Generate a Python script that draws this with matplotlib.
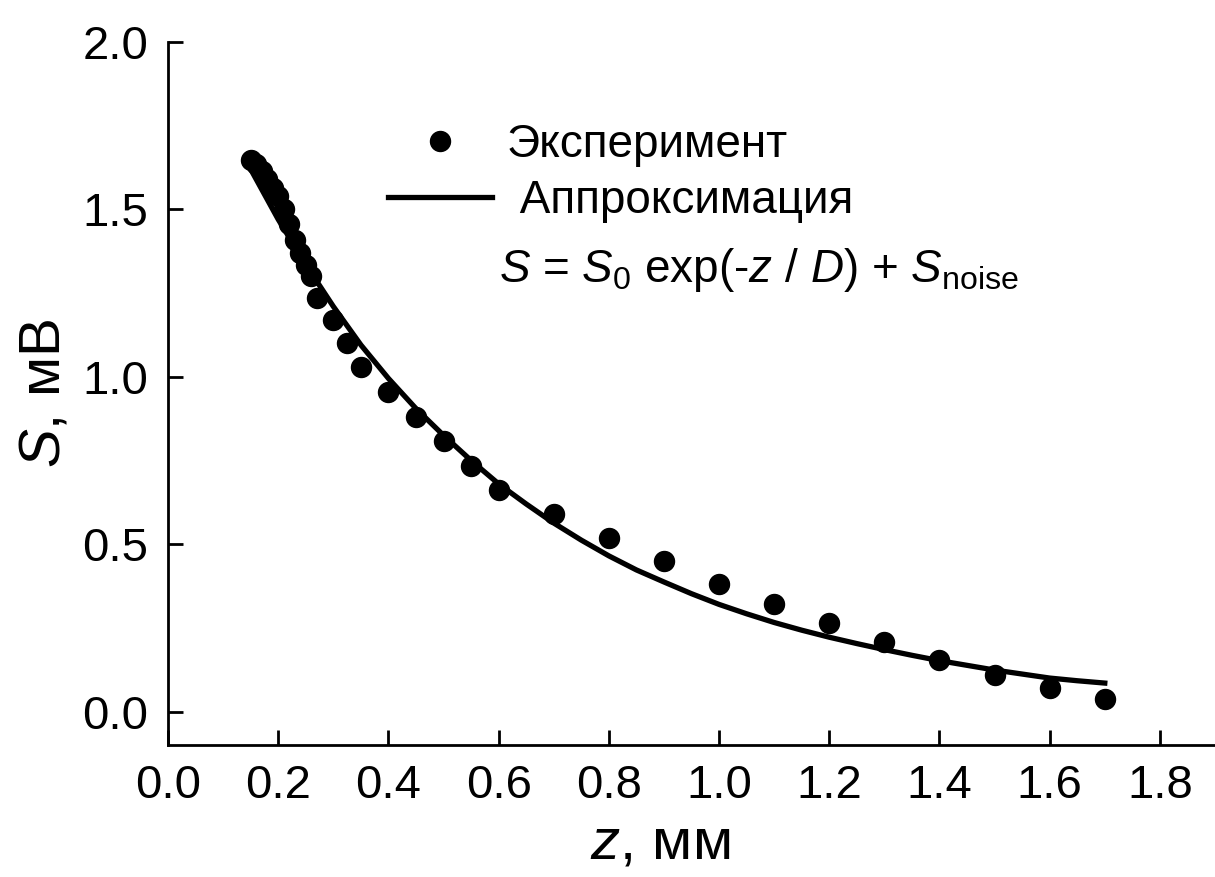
import numpy as np
import matplotlib
matplotlib.use("Agg")
import matplotlib.pyplot as plt

plt.rcParams["font.family"] = ["Liberation Sans", "DejaVu Sans"]
plt.rcParams["mathtext.fontset"] = "custom"
plt.rcParams["mathtext.rm"] = "Liberation Sans"
plt.rcParams["mathtext.it"] = "Liberation Sans:italic"

# experiment
z_exp = [0.15, 0.16, 0.17, 0.18, 0.19, 0.20, 0.21, 0.22, 0.23, 0.24, 0.25,
         0.26, 0.27, 0.30, 0.325, 0.35, 0.40, 0.45, 0.50, 0.55, 0.60, 0.70,
         0.80, 0.90, 1.00, 1.10, 1.20, 1.30, 1.40, 1.50, 1.60, 1.70]
s_exp = [1.648, 1.635, 1.615, 1.59, 1.565, 1.54, 1.50, 1.455, 1.41, 1.37, 1.335,
         1.30, 1.235, 1.17, 1.10, 1.028, 0.956, 0.881, 0.807, 0.732, 0.661, 0.590,
         0.518, 0.449, 0.382, 0.321, 0.263, 0.207, 0.155, 0.110, 0.070, 0.037]

# fit curve
z_fit = [0.15, 0.20, 0.25, 0.30, 0.35, 0.40, 0.45, 0.50, 0.55, 0.60, 0.65,
         0.70, 0.75, 0.80, 0.85, 0.90, 0.95, 1.00, 1.05, 1.10, 1.15, 1.20,
         1.25, 1.30, 1.35, 1.40, 1.45, 1.50, 1.55, 1.60, 1.65, 1.70]
s_fit = [1.62, 1.47, 1.335, 1.21, 1.095, 0.995, 0.905, 0.825, 0.75, 0.68, 0.62,
         0.563, 0.512, 0.465, 0.423, 0.387, 0.352, 0.32, 0.292, 0.266, 0.243, 0.222,
         0.203, 0.185, 0.168, 0.152, 0.138, 0.124, 0.112, 0.100, 0.092, 0.085]

xticks = [0.0, 0.2, 0.4, 0.6, 0.8, 1.0, 1.2, 1.4, 1.6, 1.8]
yticks = [0.0, 0.5, 1.0, 1.5, 2.0]

fig = plt.figure(figsize=(12.15, 8.77), dpi=100)
ax = fig.add_axes([0.1383, 0.1505, 0.8617, 0.8016])

ax.plot(z_exp, s_exp, "o", color="black", markersize=14.4, label="Эксперимент")
ax.plot(z_fit, s_fit, "-", color="black", linewidth=3.8, label=" Аппроксимация")

ax.set_xlim(0, 1.9)
ax.set_ylim(-0.1, 2.0)
ax.set_xticks(xticks)
ax.set_yticks(yticks)
ax.set_xticklabels(["%.1f" % v for v in xticks])
ax.set_yticklabels(["%.1f" % v for v in yticks])

for s in ["top", "right"]:
    ax.spines[s].set_visible(False)
for s in ["left", "bottom"]:
    ax.spines[s].set_linewidth(2)
ax.tick_params(direction="in", length=11, width=2, labelsize=34, pad=14)

ax.set_xlabel(r"$\mathit{z}$, мм", fontsize=42)
ax.xaxis.set_label_coords(0.47, -0.102)
ax.set_ylabel(r"$\mathit{S}$, мВ", fontsize=42, labelpad=8)

ax.legend(loc="upper left", bbox_to_anchor=(0.21, 0.885), frameon=False,
          fontsize=33, handlelength=2.27, handletextpad=0.33, labelspacing=0.26,
          borderpad=0, borderaxespad=0)

ax.text(0.60, 1.32, r"$\mathit{S}$ = $\mathit{S}_{\mathrm{0}}$ exp(-$\mathit{z}$ / $\mathit{D}$) + $\mathit{S}_{\mathrm{noise}}$",
        fontsize=33, va="center", ha="left")

fig.savefig("out.png", dpi=100)
